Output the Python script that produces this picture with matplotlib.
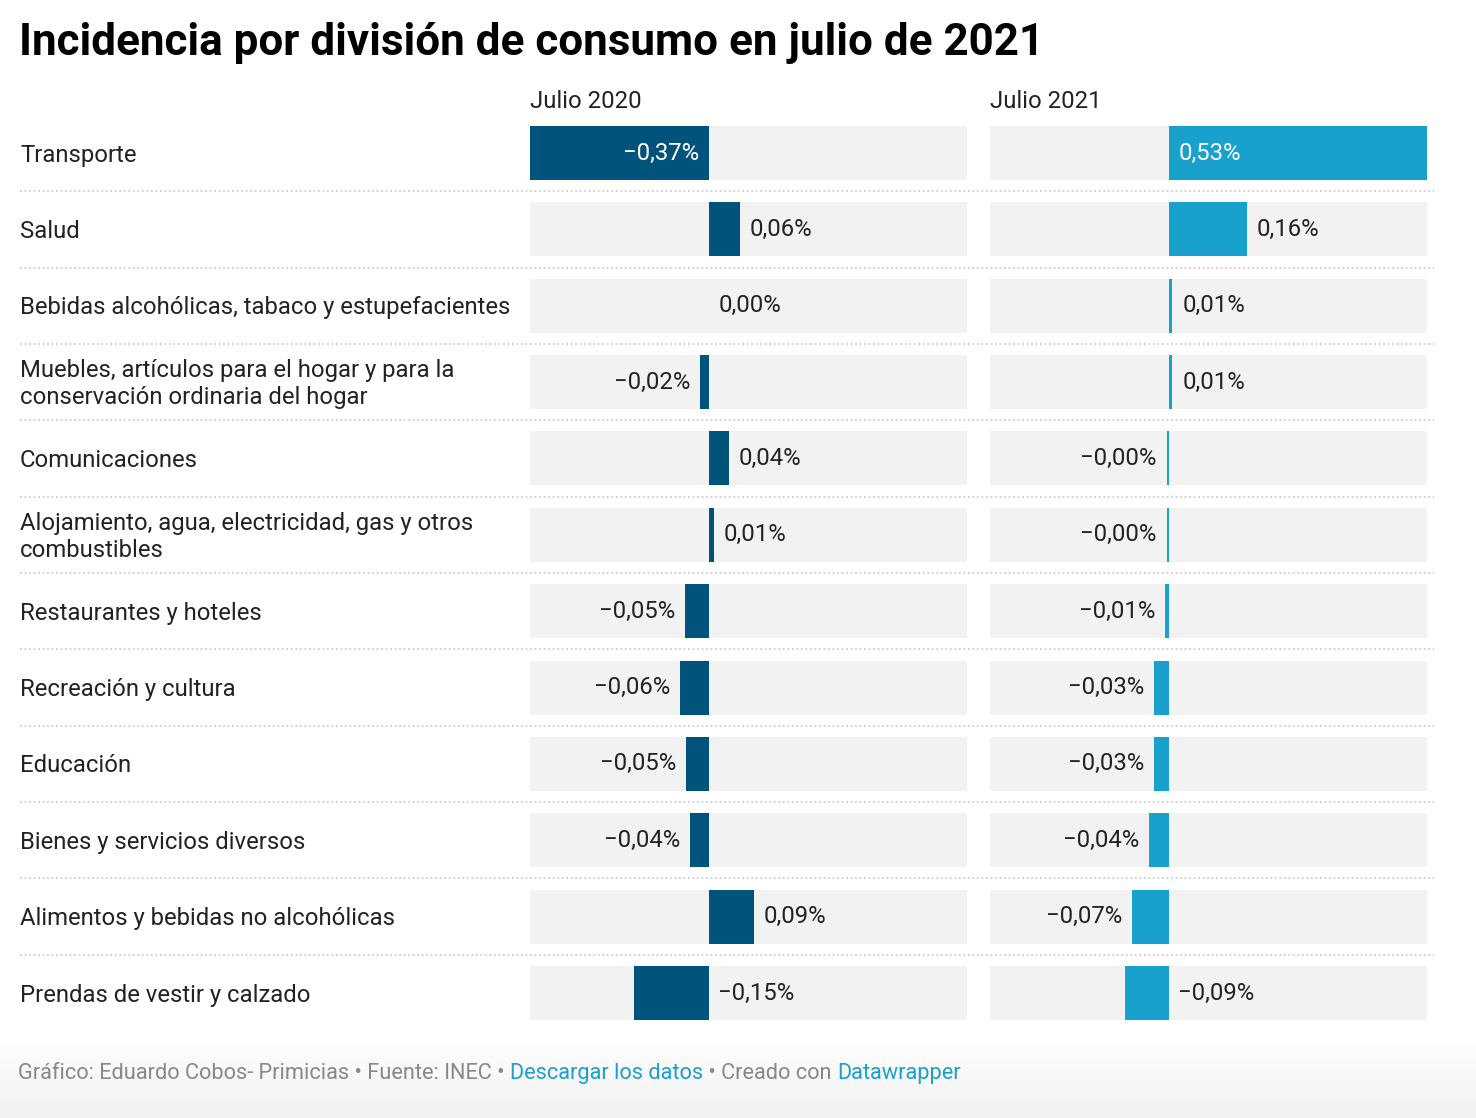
import matplotlib
matplotlib.use("Agg")
import matplotlib.pyplot as plt
from matplotlib import rcParams
from matplotlib.lines import Line2D
from matplotlib.transforms import blended_transform_factory, offset_copy
import numpy as np

rcParams.update({
    "font.family": ["Roboto", "DejaVu Sans"],
    "font.size": 17.2,
})

categories = [
    "Transporte",
    "Salud",
    "Bebidas alcohólicas, tabaco y estupefacientes",
    "Muebles, artículos para el hogar y para la\nconservación ordinaria del hogar",
    "Comunicaciones",
    "Alojamiento, agua, electricidad, gas y otros\ncombustibles",
    "Restaurantes y hoteles",
    "Recreación y cultura",
    "Educación",
    "Bienes y servicios diversos",
    "Alimentos y bebidas no alcohólicas",
    "Prendas de vestir y calzado",
]
julio_2020 = [-0.37, 0.064, 0.0, -0.017, 0.041, 0.012, -0.049, -0.058, -0.047, -0.037, 0.094, -0.152]
julio_2021 = [0.53, 0.16, 0.008, 0.008, -0.004, -0.004, -0.008, -0.029, -0.029, -0.041, -0.074, -0.09]
series_titles = ["Julio 2020", "Julio 2021"]

title = "Incidencia por división de consumo en julio de 2021"

W, H = 1476, 1118
dark = "#00537a"
light = "#18a1cc"
grey_bg = "#f2f2f2"
text_c = "#222222"
fs = 17.2

fig = plt.figure(figsize=(W / 100, H / 100), dpi=100)

# subtle gradient behind the footer
ax_bg = fig.add_axes([0, 0, 1, 80 / H])
grad = np.linspace(1, 0, 50).reshape(-1, 1)
ax_bg.imshow(grad, aspect="auto", cmap=plt.cm.colors.LinearSegmentedColormap.from_list(
    "g", ["#ffffff", "#f1f1f1"]), extent=[0, 1, 0, 1], origin="lower")
ax_bg.axis("off")


def fx(px):
    return px / W


def fy(py):
    return 1 - py / H


pitch = (1020 - 126 - 54) / 11
bar_h = 54 / pitch
ax_top = 126 - (pitch - 54) / 2
ax_bot = 1020 + (pitch - 54) / 2
xlim = (-0.366, 0.53)
n = len(categories)
ypos = np.arange(n)


def fmt(v):
    return f"{v:.2f}".replace(".", ",").replace("-", "\u2212") + "%"


axes = []
for left_px, vals, color, name in [(530, julio_2020, dark, series_titles[0]),
                                   (990, julio_2021, light, series_titles[1])]:
    ax = fig.add_axes([fx(left_px), fy(ax_bot), 437 / W, (ax_bot - ax_top) / H])
    ax.set_xlim(xlim)
    ax.set_ylim(n - 0.5, -0.5)
    ax.barh(ypos, xlim[1] - xlim[0], left=xlim[0], height=bar_h, color=grey_bg, zorder=1)
    ax.barh(ypos, vals, height=bar_h, color=color, zorder=2)
    ax.axis("off")
    for i, v in enumerate(vals):
        inside = abs(v) > 0.3
        on_right = v >= 0 or i == n - 1
        if inside:
            dx, anchor, ha, col = (-7, 0, "right", "white") if v < 0 else (7, 0, "left", "white")
        elif on_right:
            dx, anchor, ha, col = 7, max(v, 0), "left", text_c
        else:
            dx, anchor, ha, col = -7, v, "right", text_c
        ax.annotate(fmt(v), (anchor, i), xytext=(dx, 0), textcoords="offset points",
                    ha=ha, va="center", color=col, fontsize=fs, zorder=3)
    fig.text(fx(left_px), fy(102), name, ha="left", va="center", color=text_c, fontsize=fs)
    axes.append(ax)

ax1 = axes[0]
tr = blended_transform_factory(fig.transFigure, ax1.transData)
tr_txt = offset_copy(tr, fig=fig, y=-1.5, units="points")

for i, cat in enumerate(categories):
    fig.text(fx(20), i, cat, transform=tr_txt, ha="left", va="center",
             color=text_c, fontsize=fs, linespacing=1.2)
    if i < n - 1:
        fig.lines.append(Line2D([fx(20), fx(1434)], [i + 0.5, i + 0.5], transform=tr,
                                color="#cfcfcf", lw=1.3, linestyle=(0, (1, 1.5))))

fig.text(fx(19), fy(43), title, ha="left", va="center", fontsize=31.7,
         fontweight="bold", color="#000000")

# footer
foot = [("Gráfico: Eduardo Cobos- Primicias • Fuente: INEC • ", "#888888"),
        ("Descargar los datos", "#1aa0cc"),
        (" • Creado con ", "#888888"),
        ("Datawrapper", "#1aa0cc")]
fig.canvas.draw()
renderer = fig.canvas.get_renderer()
x = fx(18)
for s, c in foot:
    t = fig.text(x, fy(1079), s, ha="left", va="baseline", fontsize=15.7, color=c)
    bb = t.get_window_extent(renderer=renderer)
    x += bb.width / W

fig.savefig("out.png", dpi=100)
